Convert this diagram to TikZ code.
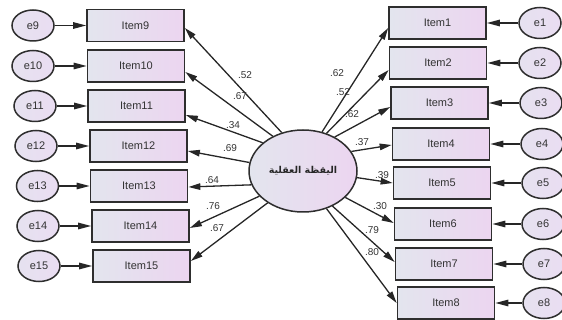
\documentclass[tikz,border=0pt]{standalone}
\usepackage{fontspec}
\setmainfont{Liberation Sans}
\newfontfamily\arabicfont[Script=Arabic]{DejaVu Sans}
\TeXXeTstate=1
\usetikzlibrary{shapes.geometric,arrows.meta}
\definecolor{txt}{HTML}{333333}
\definecolor{bordc}{HTML}{2E2E2E}
\definecolor{boxl}{HTML}{E3E5EE}
\definecolor{boxr}{HTML}{ECD5F0}
\definecolor{ell}{HTML}{EADDF2}
\tikzset{
  itembox/.style={draw=bordc, line width=1.7pt, minimum width=97pt, minimum height=32pt,
    left color=boxl, right color=boxr, text=txt, font=\fontsize{11}{13}\selectfont, inner sep=0pt},
  errell/.style={ellipse, draw=bordc, line width=1.5pt, minimum width=42pt, minimum height=31pt,
    left color=boxl!60!ell, right color=ell, text=txt, font=\fontsize{11}{13}\selectfont, inner sep=0pt},
  latent/.style={ellipse, draw=bordc, line width=1.5pt, minimum width=108pt, minimum height=82pt,
    left color=boxl, right color=boxr, text=black!85, inner sep=0pt},
  path/.style={draw=black!85, line width=1.3pt, -{Triangle[length=12pt,width=6.5pt]}},
  epath/.style={draw=black!85, line width=1.3pt, -{Triangle[length=13pt,width=6.5pt]}},
  lbl/.style={text=txt, font=\fontsize{10}{11}\selectfont, inner sep=0pt}
}
\begin{document}
\begin{tikzpicture}[x=1pt,y=-1pt]
\useasboundingbox (0,0) rectangle (562,320);
% latent
\node[latent] (F) at (303,171) {\arabicfont\fontsize{9.5}{11}\selectfont\bfseries\beginR اليقظة العقلية\endR};
% left items
\node[itembox] (i9)  at (135.5,25.5) {Item9};
\node[itembox] (i10) at (136,66) {Item10};
\node[itembox] (i11) at (136.5,106) {Item11};
\node[itembox] (i12) at (138.5,146) {Item12};
\node[itembox] (i13) at (139,186) {Item13};
\node[itembox] (i14) at (140.5,226) {Item14};
\node[itembox] (i15) at (141.5,266) {Item15};
% right items
\node[itembox] (i1) at (437.5,23) {Item1};
\node[itembox] (i2) at (438,63) {Item2};
\node[itembox] (i3) at (439.5,103) {Item3};
\node[itembox] (i4) at (441,144) {Item4};
\node[itembox] (i5) at (442,183) {Item5};
\node[itembox] (i6) at (443,224) {Item6};
\node[itembox] (i7) at (444,264) {Item7};
\node[itembox] (i8) at (446,303) {Item8};
% left errors
\node[errell] (e9)  at (33,25.5) {e9};
\node[errell] (e10) at (33,66) {e10};
\node[errell] (e11) at (35,106) {e11};
\node[errell] (e12) at (36,146) {e12};
\node[errell] (e13) at (37.5,186) {e13};
\node[errell] (e14) at (38,226) {e14};
\node[errell] (e15) at (39,266) {e15};
% right errors
\node[errell] (e1) at (540,23) {e1};
\node[errell] (e2) at (540,63) {e2};
\node[errell] (e3) at (541,103) {e3};
\node[errell] (e4) at (542,144) {e4};
\node[errell] (e5) at (543,183) {e5};
\node[errell] (e6) at (543,224) {e6};
\node[errell] (e7) at (544,264) {e7};
\node[errell] (e8) at (544,303) {e8};
% error paths
\foreach \e/\i in {9/9,10/10,11/11,12/12,13/13,14/14,15/15}{
  \draw[epath] (e\e.east) -- (i\i.west);
}
\foreach \e/\i in {1/1,2/2,3/3,4/4,5/5,6/6,7/7,8/8}{
  \draw[epath] (e\e.west) -- (i\i.east);
}
% loadings left
\draw[path] (F.119) -- ([yshift=-2.5pt]i9.east);
\draw[path] (F.131) -- ([yshift=-6pt]i10.east);
\draw[path] (F.145) -- ([yshift=-9pt]i11.east);
\draw[path] (F.171) -- ([yshift=-5pt]i12.east);
\draw[path] (F.195) -- ([yshift=-1pt]i13.east);
\draw[path] (F.210) -- ([yshift=-2pt]i14.east);
\draw[path] (F.222) -- ([yshift=5pt]i15.east);
% loadings right
\draw[path] (F.64) -- ([yshift=-5pt]i1.west);
\draw[path] (F.58) -- ([yshift=-7pt]i2.west);
\draw[path] (F.47) -- ([yshift=-4pt]i3.west);
\draw[path] (F.22) -- ([yshift=-1pt]i4.west);
\draw[path] (F.-7) -- (i5.west);
\draw[path] (F.-32) -- ([yshift=1pt]i6.west);
\draw[path] (F.-50) -- ([yshift=2pt]i7.west);
\draw[path] (F.-58) -- (i8.west);
% labels
\node[lbl] (l9)  at (245,75) {.52};
\node[lbl] (l10) at (240,96) {.67};
\node[lbl] (l11) at (233,125) {.34};
\node[lbl] (l12) at (230,148) {.69};
\node[lbl] (l13) at (212,180) {.64};
\node[lbl] (l14) at (213,206) {.76};
\node[lbl] (l15) at (217,228) {.67};
\node[lbl] (l1) at (337,73) {.62};
\node[lbl] (l2) at (343,92) {.52};
\node[lbl] (l3) at (352,114) {.62};
\node[lbl] (l4) at (362,142) {.37};
\node[lbl] (l5) at (382,175) {.39};
\node[lbl] (l6) at (380,206) {.30};
\node[lbl] (l7) at (372,230) {.79};
\node[lbl] (l8) at (372,252) {.80};
\end{tikzpicture}
\end{document}
